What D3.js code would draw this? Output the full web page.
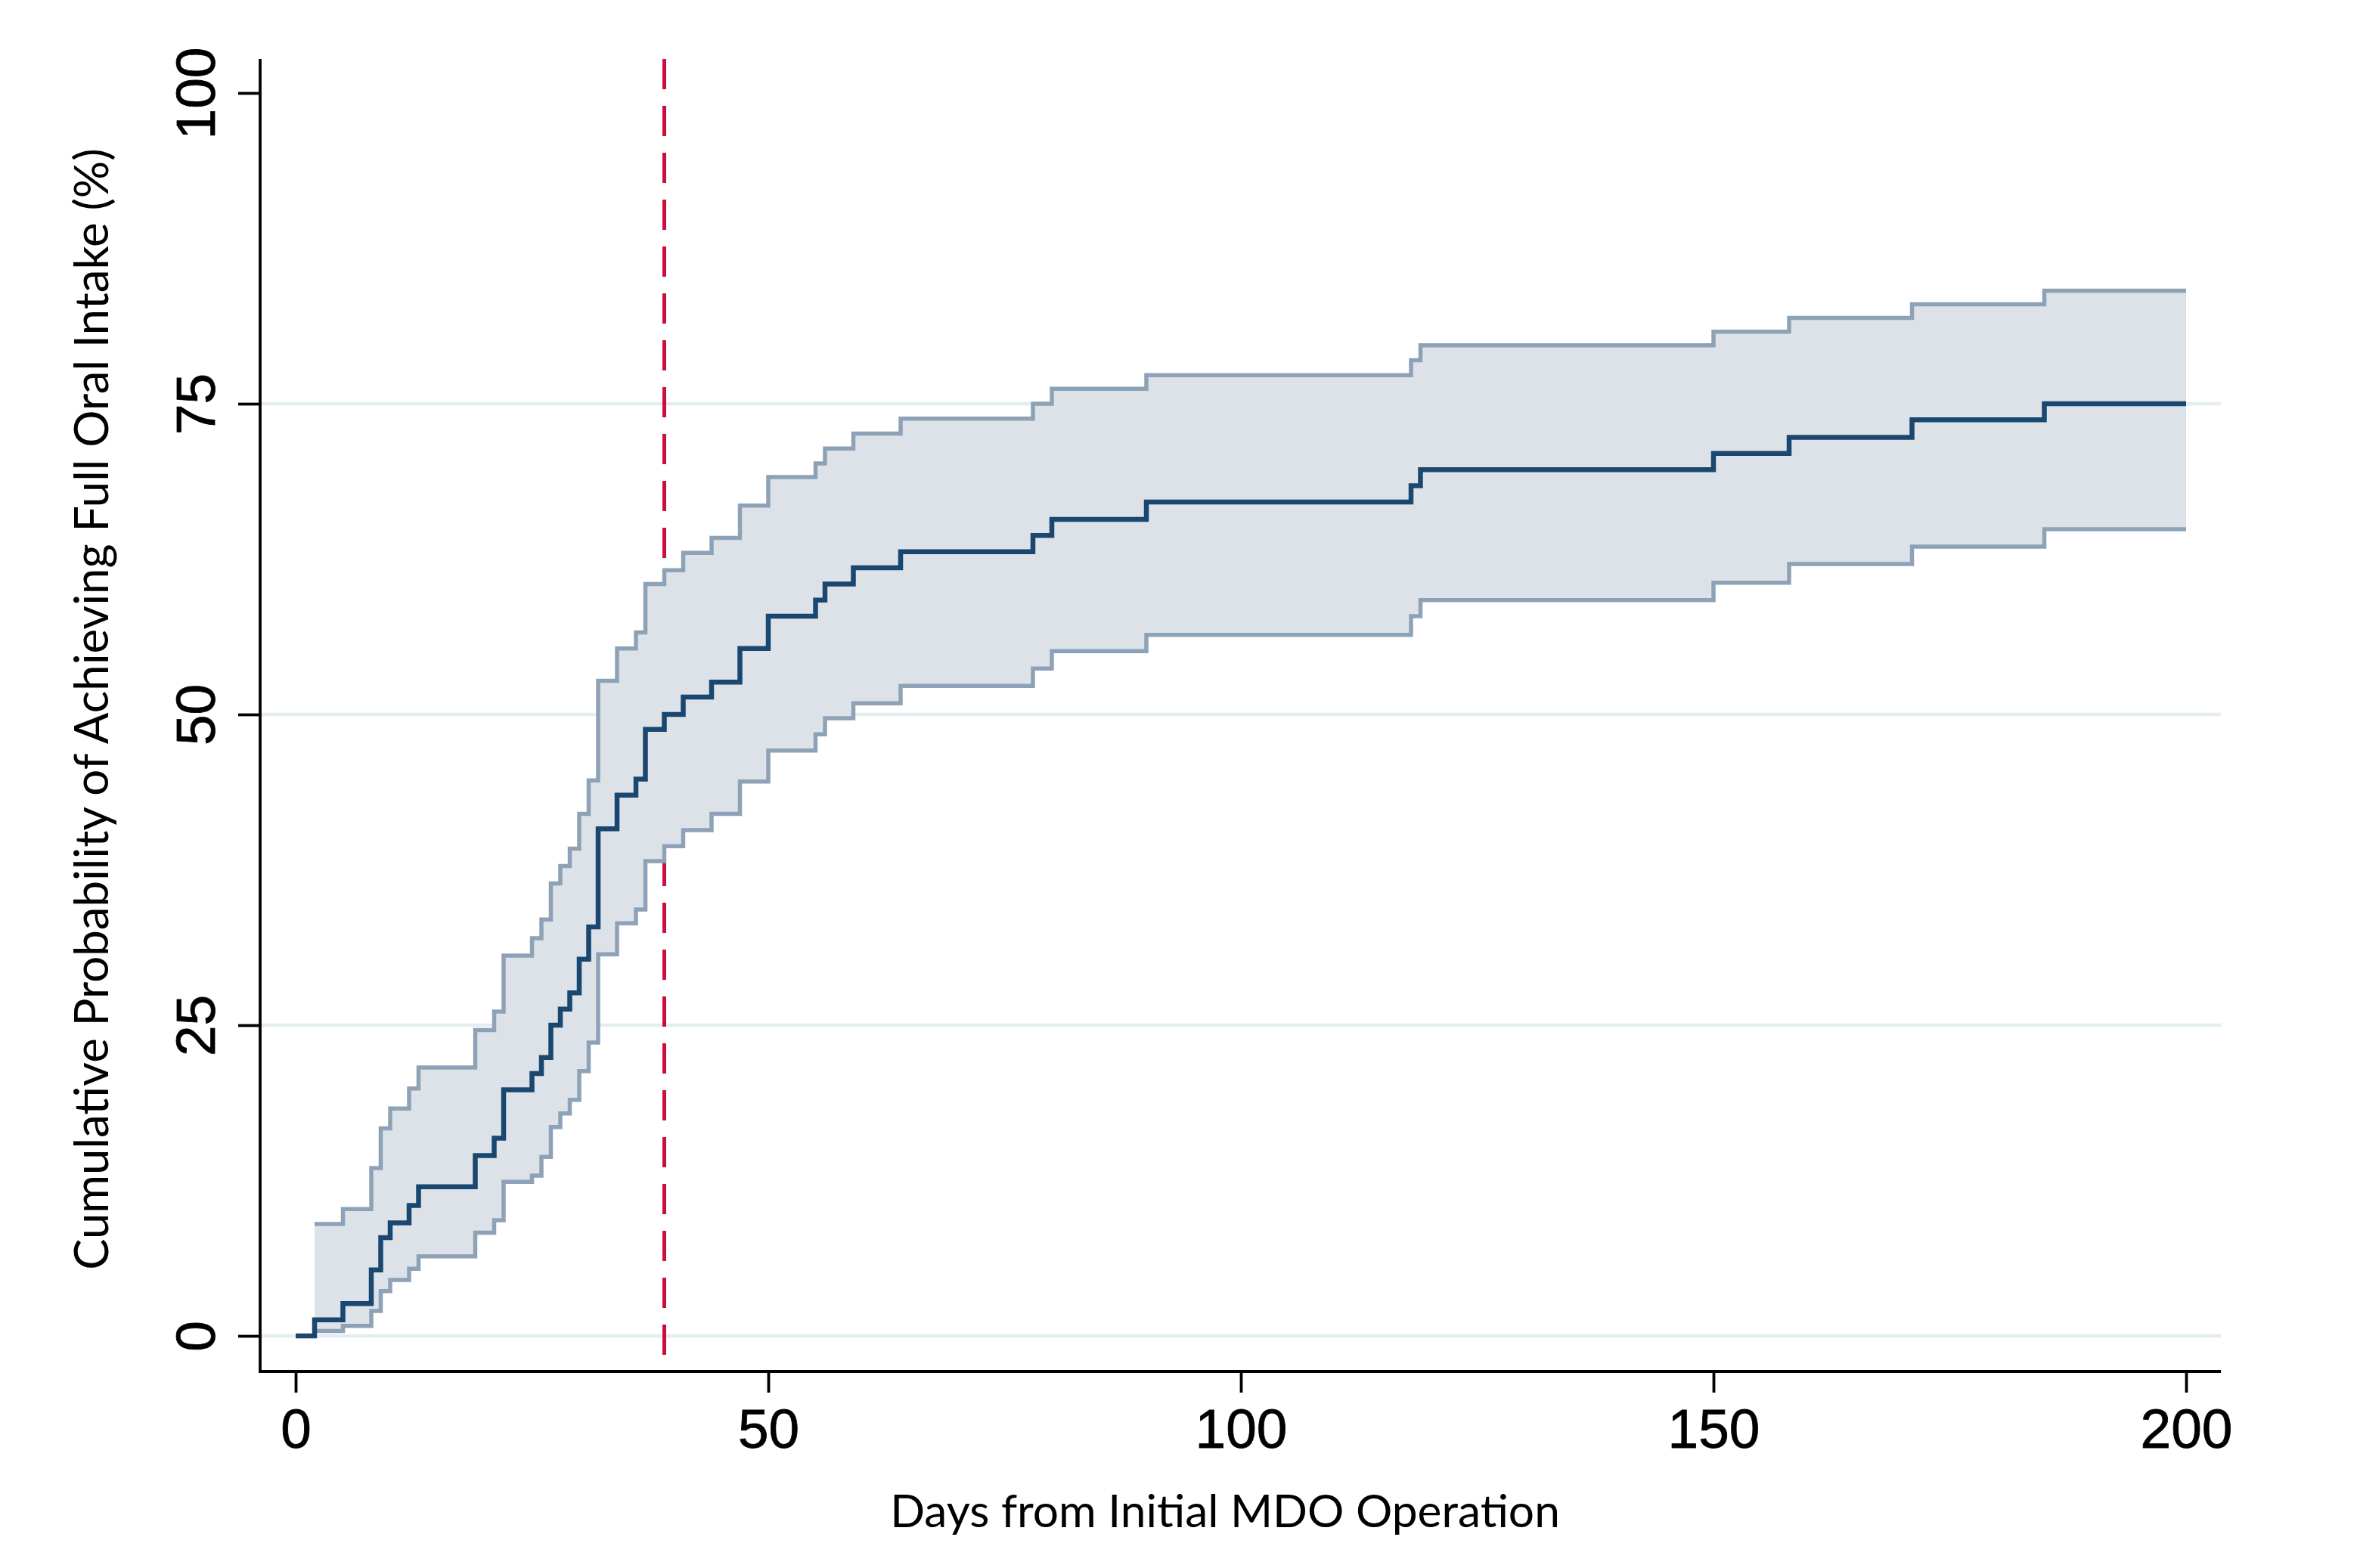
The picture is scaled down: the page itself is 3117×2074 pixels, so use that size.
<!DOCTYPE html>
<html>
<head>
<meta charset="utf-8">
<script src="https://cdn.jsdelivr.net/npm/d3@7/dist/d3.min.js"></script>
<style>
  body { margin: 0; background: #ffffff; }
  svg { display: block; }
</style>
</head>
<body>
<div id="chart"></div>
<script>
// Kaplan-Meier style cumulative incidence
var stepDays = [0, 2, 5, 8, 9, 10, 12, 13, 19, 21, 22, 25, 26, 27, 28, 29, 30, 31, 32, 34,
    36, 37, 39, 41, 44, 47, 50, 55, 56, 59, 64, 78, 80, 90, 118, 119, 150, 158, 171, 185, 200];
var estimate = [0, 1.3, 2.6, 5.3, 7.9, 9.1, 10.5, 12.0, 14.5, 15.9, 19.8, 21.1, 22.4, 25.0, 26.3, 27.6, 30.3, 32.9, 40.8, 43.5,
    44.8, 48.8, 50.0, 51.4, 52.6, 55.3, 57.9, 59.2, 60.5, 61.8, 63.1, 64.4, 65.7, 67.1, 68.4, 69.7, 71.0, 72.3, 73.7, 75.0, 75.0];
var lowerCI = [null, 0.4, 0.8, 2.0, 3.6, 4.5, 5.4, 6.4, 8.3, 9.3, 12.4, 12.9, 14.4, 16.8, 17.9, 19.0, 21.3, 23.6, 30.7, 33.2,
    34.3, 38.2, 39.4, 40.7, 42.0, 44.6, 47.1, 48.4, 49.7, 50.9, 52.3, 53.7, 55.1, 56.4, 57.9, 59.2, 60.6, 62.1, 63.5, 64.9, 64.9];
var upperCI = [null, 9.0, 10.2, 13.5, 16.7, 18.3, 19.9, 21.6, 24.6, 26.1, 30.6, 32.0, 33.5, 36.4, 37.8, 39.2, 42.0, 44.7, 52.7, 55.3,
    56.6, 60.5, 61.6, 63.0, 64.2, 66.8, 69.1, 70.2, 71.4, 72.6, 73.8, 75.0, 76.2, 77.3, 78.5, 79.7, 80.8, 81.9, 83.0, 84.1, 84.1];

var xTicks = [0, 50, 100, 150, 200];
var yTicks = [0, 25, 50, 75, 100];
var gridTicks = [0, 25, 50, 75];
var markerDay = 39;

var xTitle = "Days from Initial MDO Operation";
var yTitle = "Cumulative Probability of Achieving Full Oral Intake (%)";

makePlot();

function makePlot() {
    // STEP 1: set up the chart
    var svgWidth = 3117;
    var svgHeight = 2074;
    var margin = { top: 123, right: 226, bottom: 307, left: 391 };
    var chart_width = svgWidth - margin.left - margin.right;
    var chart_height = svgHeight - margin.top - margin.bottom;
    // axis frame sits a bit outside the data range (stata style)
    var padLeft = 47, padTop = 45, padBottom = 47, padRight = 46;

    // STEP 2: create the svg
    var svg = d3.select("#chart")
        .append("svg")
        .attr("width", svgWidth)
        .attr("height", svgHeight);
    svg.append("rect")
        .attr("width", svgWidth)
        .attr("height", svgHeight)
        .attr("fill", "#ffffff");
    var chartGroup = svg.append("g")
        .attr("transform", `translate(${margin.left}, ${margin.top})`);

    // STEP 3: prepare the data
    var rows = stepDays.map(function(d, i) {
        return { day: d, est: estimate[i], lo: lowerCI[i], hi: upperCI[i] };
    });
    var ciRows = rows.filter(r => r.lo !== null);

    // STEP 4: scales
    var xScale = d3.scaleLinear()
        .domain([0, 200])
        .range([0, chart_width]);
    var yScale = d3.scaleLinear()
        .domain([0, 100])
        .range([chart_height, 0]);

    var xLeft = -padLeft;
    var xRight = chart_width + padRight;
    var yBottom = chart_height + padBottom;

    // STEP 5: gridlines
    chartGroup.selectAll(".grid")
        .data(gridTicks)
        .enter()
        .append("line")
        .attr("x1", xLeft)
        .attr("x2", xRight)
        .attr("y1", d => yScale(d))
        .attr("y2", d => yScale(d))
        .attr("stroke", "#e4edf0")
        .attr("stroke-width", 4.5);

    // reference line (drawn under the band)
    chartGroup.append("line")
        .attr("x1", xScale(markerDay))
        .attr("x2", xScale(markerDay))
        .attr("y1", -padTop)
        .attr("y2", yBottom)
        .attr("stroke", "#c8103a")
        .attr("stroke-width", 5)
        .attr("stroke-dasharray", "40,22");

    // STEP 6: the graph - CI band, CI bounds, estimate
    var band = d3.area()
        .curve(d3.curveStepAfter)
        .x(d => xScale(d.day))
        .y0(d => yScale(d.lo))
        .y1(d => yScale(d.hi));
    chartGroup.append("path")
        .attr("d", band(ciRows))
        .attr("fill", "#dce2e8");

    var loLine = d3.line().curve(d3.curveStepAfter)
        .x(d => xScale(d.day))
        .y(d => yScale(d.lo));
    var hiLine = d3.line().curve(d3.curveStepAfter)
        .x(d => xScale(d.day))
        .y(d => yScale(d.hi));
    var estLine = d3.line().curve(d3.curveStepAfter)
        .x(d => xScale(d.day))
        .y(d => yScale(d.est));

    [loLine, hiLine].forEach(function(gen) {
        chartGroup.append("path")
            .attr("d", gen(ciRows))
            .attr("fill", "none")
            .attr("stroke", "#8ea2b7")
            .attr("stroke-width", 5.5);
    });
    chartGroup.append("path")
        .attr("d", estLine(rows))
        .attr("fill", "none")
        .attr("stroke", "#1a476f")
        .attr("stroke-width", 6.5);

    // STEP 7: axes
    var leftAxis = d3.axisLeft(yScale).tickValues(yTicks).tickSize(29).tickSizeOuter(0);
    var bottomAxis = d3.axisBottom(xScale).tickValues(xTicks).tickSize(28).tickSizeOuter(0);

    var yAxisG = chartGroup.append("g")
        .attr("transform", `translate(${xLeft}, 0)`)
        .call(leftAxis);
    var xAxisG = chartGroup.append("g")
        .attr("transform", `translate(0, ${yBottom})`)
        .call(bottomAxis);

    [yAxisG, xAxisG].forEach(function(g) {
        g.select(".domain").remove();
        g.selectAll(".tick line").attr("stroke", "#000").attr("stroke-width", 3.8);
        g.selectAll("text")
            .attr("font-family", "'Liberation Sans', Arial, sans-serif")
            .attr("font-size", 73)
            .attr("fill", "#000")
            .attr("stroke", "#000")
            .attr("stroke-width", 0.8);
    });
    // rotated y labels, reading upward
    yAxisG.selectAll("text")
        .attr("transform", "rotate(-90)")
        .attr("text-anchor", "middle")
        .attr("x", 0)
        .attr("y", -60)
        .attr("dy", 0);
    xAxisG.selectAll("text")
        .attr("y", 101)
        .attr("dy", 0);

    // axis lines
    chartGroup.append("line")
        .attr("x1", xLeft).attr("x2", xLeft)
        .attr("y1", -padTop).attr("y2", yBottom + 1.9)
        .attr("stroke", "#000").attr("stroke-width", 3.8);
    chartGroup.append("line")
        .attr("x1", xLeft).attr("x2", xRight)
        .attr("y1", yBottom).attr("y2", yBottom)
        .attr("stroke", "#000").attr("stroke-width", 3.8);

    // STEP 8: titles, sized to the original's text width
    var xt = svg.append("text")
        .attr("x", 1620)
        .attr("y", 2020)
        .attr("text-anchor", "middle")
        .attr("font-family", "Lato, 'Open Sans', sans-serif")
        .attr("font-size", 60)
        .attr("fill", "#000")
        .text(xTitle);
    var xLen = xt.node().getComputedTextLength();
    xt.attr("font-size", 60 * 886 / xLen);

    var yt = svg.append("text")
        .attr("transform", "translate(143, 938) rotate(-90)")
        .attr("text-anchor", "middle")
        .attr("font-family", "Lato, 'Open Sans', sans-serif")
        .attr("font-size", 60)
        .attr("fill", "#000")
        .text(yTitle);
    var yLen = yt.node().getComputedTextLength();
    yt.attr("font-size", 60 * 1484 / yLen);
}
</script>
</body>
</html>
